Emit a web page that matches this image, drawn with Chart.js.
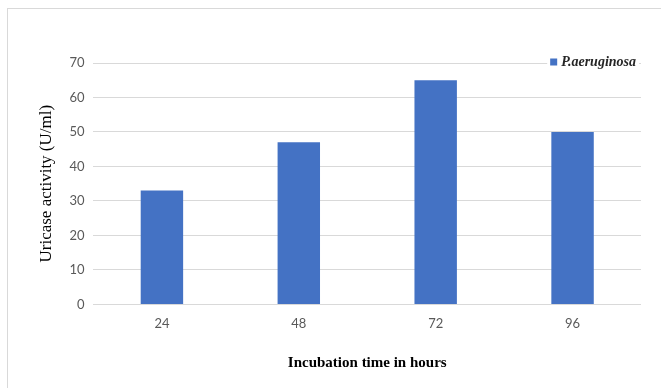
<!DOCTYPE html>
<html>
<head>
<meta charset="utf-8">
<script src="https://cdn.jsdelivr.net/npm/chart.js@4.4.1/dist/chart.umd.min.js"></script>
<style>
  html, body { margin: 0; padding: 0; background: #fff; }
  #wrap { position: relative; width: 661px; height: 388px; overflow: hidden; }
  #frame { position: absolute; left: 7px; top: 8px; width: 700px; height: 420px;
           border-left: 1px solid #d9d9d9; border-top: 1px solid #d9d9d9; }
  #c { position: absolute; left: 0; top: 0; }
</style>
</head>
<body>
<div id="wrap">
  <div id="frame"></div>
  <canvas id="c" width="661" height="388"></canvas>
</div>
<script>
// Incubation time (hours) and uricase activity (U/ml)
const hours = ['24', '48', '72', '96'];
const activity = [33, 47, 65, 50];
const seriesName = 'P.aeruginosa';
const yTicks = [0, 10, 20, 30, 40, 50, 60, 70];

const barColor = '#4472C4';

// Legend drawn inside the plot, top-right corner
const innerLegend = {
  id: 'innerLegend',
  afterDraw(chart) {
    const ctx = chart.ctx;
    const area = chart.chartArea;
    const ds = chart.data.datasets[0];
    ctx.save();
    ctx.font = 'italic bold 14px "Liberation Serif", "Times New Roman", serif';
    const tw = ctx.measureText(ds.label).width;
    const cy = area.top - 1;
    const xText = area.right - 5 - tw;
    const box = 7;
    const xBox = xText - 4 - box;
    ctx.fillStyle = '#fff';
    ctx.fillRect(xBox - 3, cy - 9, tw + box + 10, 18);
    ctx.fillStyle = ds.backgroundColor;
    ctx.fillRect(xBox, cy - box / 2, box, box);
    ctx.fillStyle = '#262626';
    ctx.textBaseline = 'middle';
    ctx.fillText(ds.label, xText, cy);
    ctx.restore();
  }
};

new Chart(document.getElementById('c'), {
  type: 'bar',
  data: {
    labels: hours,
    datasets: [{
      label: seriesName,
      data: activity,
      backgroundColor: barColor,
      borderWidth: 0,
      barPercentage: 0.31,
      categoryPercentage: 1
    }]
  },
  options: {
    responsive: false,
    animation: false,
    layout: { padding: { left: 36, right: 20, top: 63, bottom: 16 } },
    plugins: {
      legend: { display: false },
      tooltip: { enabled: false }
    },
    scales: {
      x: {
        grid: { display: false },
        border: { display: false },
        ticks: {
          color: '#595959',
          font: { family: 'Lato, "Open Sans", sans-serif', size: 13 },
          padding: 4
        },
        title: {
          display: true,
          text: 'Incubation time in hours',
          color: '#000',
          font: { family: '"Liberation Serif", "Times New Roman", serif', size: 15, weight: 'bold' },
          padding: { top: 18, bottom: 0 }
        }
      },
      y: {
        min: 0,
        max: 70,
        afterBuildTicks(scale) { scale.ticks = yTicks.map(v => ({ value: v })); },
        grid: { color: '#d9d9d9', lineWidth: 1, drawTicks: false },
        border: { display: false },
        ticks: {
          color: '#595959',
          font: { family: 'Lato, "Open Sans", sans-serif', size: 13 },
          padding: 9
        },
        title: {
          display: true,
          text: 'Uricase activity (U/ml)',
          color: '#000',
          font: { family: '"Liberation Serif", "Times New Roman", serif', size: 17 },
          padding: { top: 0, bottom: 4 }
        }
      }
    }
  },
  plugins: [innerLegend]
});
</script>
</body>
</html>
